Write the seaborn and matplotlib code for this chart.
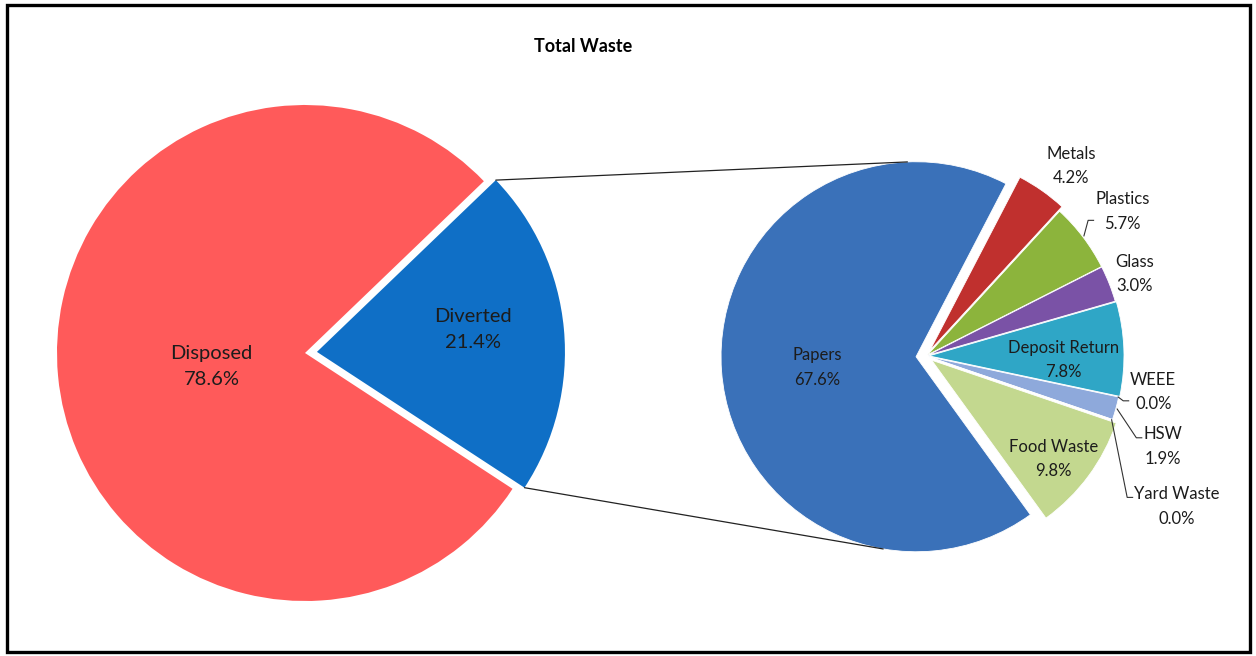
import numpy as np
import matplotlib
matplotlib.use("Agg")
import matplotlib.pyplot as plt
from matplotlib.patches import Rectangle
import seaborn as sns

# ---- data -------------------------------------------------------------
title = "Total Waste"

total_labels = ["Diverted", "Disposed"]
total_values = [21.4, 78.6]

diverted_labels = ["Papers", "Metals", "Plastics", "Glass", "Deposit Return",
                   "WEEE", "HSW", "Yard Waste", "Food Waste"]
diverted_values = [67.6, 4.2, 5.7, 3.0, 7.8, 0.0, 1.9, 0.0, 9.8]

total_hex = ["#0F6FC6", "#FF5A5A"]
diverted_hex = ["#3A71B9", "#C0302E", "#8CB43C", "#7A52A6", "#2FA6C6",
                "#F79646", "#8EA9DB", "#D99694", "#C3D88F"]

# ---- style ------------------------------------------------------------
sns.set_theme(style="white")
plt.rcParams["font.family"] = ["Lato", "DejaVu Sans"]
total_colors = sns.color_palette(total_hex)
diverted_colors = sns.color_palette(diverted_hex)
TEXT = "#1c1c1c"

W, H = 1256, 656
fig = plt.figure(figsize=(W / 100, H / 100), dpi=100)
fig.patch.set_facecolor("white")
ax = fig.add_axes([0, 0, 1, 1])

# ---- layout (canvas units: 1 unit = 1 px, y up) ---------------------
L_CENTER, L_R = (305, H - 353), 248
R_CENTER, R_R = (926, H - 356), 195
total_explode = [12, 0]
diverted_explode = [10, 7, 2, 2, 3, 0, 2, 0, 7]

left_wedges, _ = ax.pie(total_values, colors=total_colors, radius=L_R,
                        center=L_CENTER, startangle=-33.2, counterclock=True,
                        explode=total_explode,
                        wedgeprops=dict(linewidth=0))
right_wedges, _ = ax.pie(diverted_values, colors=diverted_colors, radius=R_R,
                         center=R_CENTER, startangle=305.9, counterclock=False,
                         explode=diverted_explode,
                         wedgeprops=dict(edgecolor="white", linewidth=0.6))

ax.set_xlim(0, W)
ax.set_ylim(0, H)
ax.set_aspect("equal")
ax.axis("off")


def polar(center, r, ang):
    a = np.deg2rad(ang)
    return center[0] + r * np.cos(a), center[1] + r * np.sin(a)


def mid(w):
    return 0.5 * (w.theta1 + w.theta2)


# label placement: (radius factor, angular shift in degrees)
left_place = {"Diverted": (0.635, 2.7), "Disposed": (0.38, 2.7)}
right_place = {"Papers": (0.51, 2.1), "Metals": (1.19, -2.4),
               "Plastics": (1.24, -0.8), "Glass": (1.14, 0.0),
               "Deposit Return": (0.69, -3.7), "WEEE": (1.18, 3.0),
               "HSW": (1.29, -5.6), "Yard Waste": (1.50, -12.1),
               "Food Waste": (0.805, -2.6)}
leader_labels = ["Plastics", "WEEE", "HSW", "Yard Waste"]

for w, name, val in zip(left_wedges, total_labels, total_values):
    k, dt = left_place[name]
    x, y = polar(w.center, k * w.r, mid(w) + dt)
    ax.text(x, y, f"{name}\n{val:.1f}%", ha="center", va="center",
            fontsize=14.5, color=TEXT, linespacing=1.65)

texts = {}
for w, name, val in zip(right_wedges, diverted_labels, diverted_values):
    k, dt = right_place[name]
    x, y = polar(w.center, k * w.r, mid(w) + dt)
    texts[name] = ax.text(x, y, f"{name}\n{val:.1f}%", ha="center",
                          va="center", fontsize=12, color=TEXT,
                          linespacing=1.65)

fig.canvas.draw()
renderer = fig.canvas.get_renderer()
for w, name in zip(right_wedges, diverted_labels):
    if name not in leader_labels:
        continue
    sx, sy = polar(w.center, w.r + 1, mid(w))
    bb = texts[name].get_window_extent(renderer)
    cy = 0.5 * (bb.y0 + bb.y1)
    h = bb.y1 - bb.y0
    ty = cy + 0.22 * h if sy > cy else cy - 0.22 * h
    ex = bb.x0 - 1
    ax.plot([sx, ex - 6, ex], [sy, ty, ty], color="#333333", lw=0.8,
            solid_capstyle="butt")

# connector lines from the exploded slice to the breakdown pie
div = left_wedges[0]
paper = right_wedges[0]
O = np.array(paper.center)
for ang, sign in ((div.theta2, -1), (div.theta1, 1)):
    P = np.array(polar(div.center, div.r, ang))
    d = np.linalg.norm(P - O)
    phi = np.degrees(np.arctan2(*(P - O)[::-1]))
    t = phi + sign * np.degrees(np.arccos(paper.r / d))
    T = polar(O, paper.r, t)
    ax.plot([P[0], T[0]], [P[1], T[1]], color="#222222", lw=0.9)

ax.text(583, H - 47, title, ha="center", va="center", fontsize=13,
        fontweight="bold", color="black")

ax.add_patch(Rectangle((7, H - 652), 1243, 647, fill=False, lw=2.4,
                       edgecolor="black", clip_on=False))

fig.savefig("out.png", dpi=100, facecolor="white")
